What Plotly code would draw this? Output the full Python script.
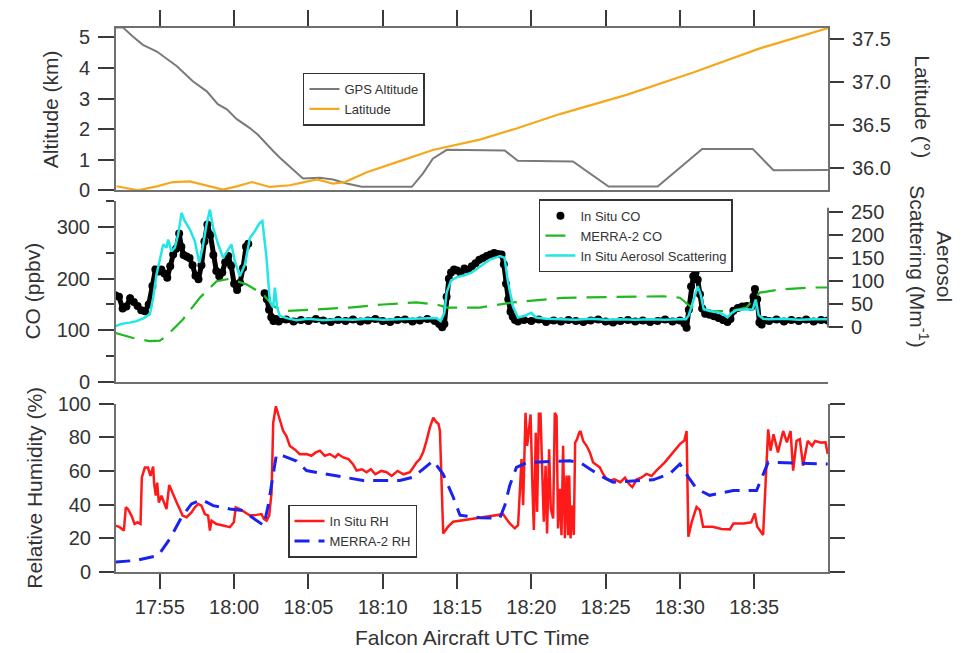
import pandas as pd
import plotly.graph_objects as go

# ---------------- data (minutes after 17:52:00 UTC) ----------------
BASE = "2019-08-07 17:52:00"

alt_t = [0, 0.51, 1.18, 1.86, 2.8, 4.15, 5.22, 6.16, 6.9, 7.51, 8.18, 9.06, 9.6, 10.2, 10.61, 11.08,
         11.75, 12.63, 13.77, 14.65, 15.58, 16.59, 19.96, 20.7, 21.37, 22.31, 26.21, 27.09, 30.8,
         33.2, 36.5, 39.5, 42.9, 44.3, 47.96]
alt_km = [5.33, 5.33, 5.03, 4.76, 4.54, 4.06, 3.57, 3.24, 2.82, 2.65, 2.33, 2.04, 1.82, 1.5, 1.3, 1.07,
          0.79, 0.39, 0.42, 0.36, 0.23, 0.12, 0.12, 0.55, 1.04, 1.33, 1.31, 0.97, 0.95,
          0.13, 0.13, 1.36, 1.36, 0.66, 0.67]

lat_t = [0.09, 1.52, 2.8, 3.88, 5.02, 6.16, 7.24, 8.18, 9.19, 10.4, 11.75, 12.56, 13.57, 14.65, 15.45,
         16.93, 17.81, 19.15, 21.37, 24.53, 27.0, 29.92, 34.41, 38.89, 43.38, 47.95]
lat_deg = [35.788, 35.742, 35.787, 35.837, 35.844, 35.80, 35.75, 35.787, 35.837, 35.78, 35.80, 35.83,
           35.867, 35.82, 35.837, 35.951, 36.0, 36.08, 36.21, 36.33, 36.46, 36.627, 36.85, 37.11,
           37.39, 37.625]

co_t = [0.0, 0.25, 0.5, 0.75, 1.0, 1.25, 1.5, 1.75, 2.0, 2.25, 2.5, 2.7, 2.9, 3.1, 3.3, 3.5, 3.7, 3.9,
        4.1, 4.3, 4.45, 4.6, 4.8, 5.0, 5.2, 5.4, 5.6, 5.8, 6.0, 6.2, 6.4, 6.6, 6.8, 7.0, 7.2, 7.4, 7.6,
        7.8, 8.0, 8.2, 8.4, 8.6, 8.8, 8.95, 9.5, 10.05, 10.2, 10.35, 10.5, 10.65, 10.8, 11.0, 11.5,
        12.0, 12.5, 13.0, 13.5, 14.0, 14.5, 15.0, 15.5, 16.0, 16.5, 17.0, 17.5, 18.0, 18.5, 19.0, 19.5,
        20.0, 20.5, 21.0, 21.5, 21.8, 22.0, 22.15, 22.3, 22.45, 22.6, 22.8, 23.0, 23.25, 23.5, 23.75,
        24.0, 24.25, 24.5, 24.75, 25.0, 25.25, 25.5, 25.75, 26.0, 26.15, 26.3, 26.45, 26.6, 26.75, 26.9,
        27.1, 27.5, 28.0, 28.5, 29.0, 29.5, 30.0, 30.5, 31.0, 31.5, 32.0, 32.5, 33.0, 33.5, 34.0, 34.5,
        35.0, 35.5, 36.0, 36.5, 37.0, 37.5, 38.0, 38.3, 38.45, 38.6, 38.75, 38.9, 39.05, 39.2, 39.35,
        39.5, 39.7, 40.0, 40.3, 40.6, 40.9, 41.2, 41.4, 41.6, 41.9, 42.2, 42.5, 42.8, 42.95, 43.05,
        43.2, 43.35, 43.5, 43.7, 44.0, 44.5, 45.0, 45.5, 46.0, 46.5, 47.0, 47.5, 47.95]
co_ppbv = [168, 165, 142, 146, 162, 155, 147, 139, 137, 150, 186, 218, 214, 218, 210, 202, 224, 247,
           258, 288, 262, 246, 243, 240, 226, 206, 199, 226, 272, 305, 285, 246, 215, 205, 212, 232, 244,
           225, 190, 178, 192, 221, 262, 268, None, 172, 160, 140, 125, 118, 122, 117, 121,
           117, 120, 118, 122, 119, 116, 120, 118, 121, 117, 119, 122, 118, 116, 120, 121,
           117, 119, 122, 118, 112, 106, 112, 165, 200, 212, 218, 216, 211, 220, 217,
           224, 230, 237, 240, 244, 247, 250, 248, 247, 228, 190, 160, 136, 126, 120,
           117, 120, 118, 121, 116, 119, 117, 120, 118, 116, 119, 121, 117, 115, 118, 120,
           117, 119, 116, 118, 121, 117, 119, 113, 105, 140, 185, 205, 212, 198, 170,
           142, 132, 130, 127, 124, 120, 116, 122, 138, 143, 146, 147, 145, 165, 180,
           160, 115, 111, 120, 118, 121, 117, 120, 118, 121, 117, 120, 119]

merra_co_t = [0.0, 1.2, 2.3, 3.0, 3.45, 4.55, 5.69, 6.82, 7.71, 8.83, 9.95, 10.63, 11.3, 13.55, 15.79,
              18.0, 20.28, 21.62, 22.3, 24.53, 26.8, 30.14, 33.5, 36.87, 38.0, 38.67, 40.24, 41.36,
              42.48, 43.38, 44.72, 46.99, 47.95]
merra_co_ppbv = [95, 85, 79, 80, 89, 121, 163, 195, 200, 189, 170, 147, 137, 141, 144,
                 150, 154, 150, 144, 144, 154, 163, 165, 166, 163, 147, 137, 137,
                 144, 173, 179, 183, 183]

aer_t = [0.0, 0.5, 0.98, 1.43, 1.88, 2.33, 2.55, 2.78, 3.0, 3.23, 3.45, 3.56, 3.78, 4.01, 4.23, 4.46,
         4.68, 5.02, 5.36, 5.65, 5.88, 6.14, 6.37, 6.59, 6.93, 7.26, 7.6, 7.82, 8.04, 8.38, 8.72, 9.06,
         9.39, 9.73, 9.9, 10.18, 10.4, 10.63, 10.74, 10.9, 11.08, 11.6, 12.2, 13.0, 14.0, 15.0, 16.0,
         17.0, 18.0, 19.0, 20.0, 21.0, 21.6, 21.9, 22.15, 22.3, 22.6, 23.0, 23.5, 24.0, 24.53, 25.2,
         25.9, 26.2, 26.4, 26.75, 27.1, 27.5, 28.0, 28.3, 29.0, 30.0, 31.0, 32.0, 33.0, 34.0, 35.0,
         36.0, 37.0, 38.0, 38.4, 38.6, 38.9, 39.2, 39.4, 39.6, 40.0, 40.6, 41.0, 41.2, 41.5, 41.8,
         42.5, 42.9, 43.1, 43.3, 43.6, 44.0, 45.0, 46.0, 47.0, 47.95]
aer_mm = [1, 6.5, 8.7, 12, 18, 27, 63, 114, 146, 179, 172, 190, 164, 172, 200, 248,
          230, 212, 186, 139, 172, 222, 255, 215, 179, 150, 168, 179, 143, 110, 135, 193,
          208, 226, 230, 150, 56, 41, 85, 41, 23, 18, 14, 17, 14, 16, 15,
          17, 15, 16, 17, 18, 19, 12, 30, 74, 101, 108, 112, 118, 130, 146,
          154, 150, 103, 45, 20, 23, 30, 20, 17, 16, 15, 17, 15, 16, 15,
          16, 15, 16, 16, 25, 59, 88, 70, 38, 34, 31, 25, 20, 30, 36,
          38, 37, 59, 25, 17, 16, 17, 15, 16, 16]

rh_t = [0.0, 0.3, 0.58, 0.71, 0.85, 1.09, 1.3, 1.5, 1.7, 1.79, 1.99, 2.2, 2.37, 2.55, 2.62, 2.73,
        2.82, 2.93, 3.11, 3.33, 3.45, 3.63, 3.79, 4.01, 4.23, 4.39, 4.53, 4.8, 5.13, 5.36, 5.58, 5.8,
        6.03, 6.25, 6.37, 6.48, 6.81, 7.26, 7.71, 7.98, 8.11, 8.38, 8.72, 9.06, 9.51, 9.84, 10.0,
        10.18, 10.36, 10.52, 10.63, 10.81, 10.97, 11.12, 11.3, 11.52, 11.75, 12.08, 12.42, 12.87,
        13.2, 13.5, 13.77, 14.1, 14.44, 14.8, 15.0, 15.34, 15.7, 16.0, 16.24, 16.6, 16.91, 17.2,
        17.5, 17.9, 18.26, 18.6, 19.0, 19.4, 19.83, 20.05, 20.28, 20.5, 20.72, 20.95, 21.17, 21.4,
        21.6, 21.75, 21.85, 22.07, 22.4, 22.74, 23.5, 24.53, 25.21, 26.1, 26.55, 26.89, 27.11,
        27.18, 27.34, 27.45, 27.52, 27.61, 27.72, 27.85, 27.95, 28.08, 28.17, 28.3, 28.39, 28.51,
        28.62, 28.75, 28.84, 28.96, 29.06, 29.2, 29.31, 29.47, 29.58, 29.7, 29.8, 29.92, 30.03,
        30.14, 30.26, 30.37, 30.48, 30.55, 30.64, 30.77, 30.86, 30.95, 31.08, 31.22, 31.31, 31.49,
        31.72, 31.94, 32.16, 32.61, 32.83, 33.06, 33.28, 33.6, 34.0, 34.3, 34.6, 34.8, 35.1, 35.4,
        35.75, 36.1, 36.4, 36.98, 37.54, 38.0, 38.3, 38.45, 38.57, 38.8, 39.12, 39.35, 39.56, 40.2,
        40.8, 41.36, 41.6, 42.3, 42.8, 43.04, 43.2, 43.6, 43.94, 44.1, 44.3, 44.6, 44.95, 45.2,
        45.45, 45.62, 45.85, 46.07, 46.29, 46.6, 46.9, 47.1, 47.5, 47.8, 47.95]
rh_pct = [27.6, 26.6, 24.6, 38.4, 37.4, 33.5, 28.5, 29.5, 28.5, 56.1, 62, 62, 57, 62.6, 52.2, 45.3,
          53, 41.3, 45.3, 39.4, 37.4, 51.6, 48.2, 43.3, 39.4, 36.4, 33.5, 32.5, 35.4, 38.4, 40.4, 39.4,
          34.4, 33.5, 24.6, 30.5, 28.5, 27.6, 26.6, 29.5, 38.4, 37.4, 35.4, 33.5, 33.9, 34.4, 31.5,
          30.5, 33.5, 47.2, 88.6, 98.4, 93.5, 88.6, 83.7, 80.7, 74.8, 72.8, 69.9, 70,
          69, 71, 72, 69, 70, 68, 70, 68, 67, 64, 60.2, 61, 59.2, 61,
          58, 60, 59.2, 57, 60, 58, 59.2, 62, 65.1, 67, 71, 78, 85.7, 91.6,
          89, 88, 83.7, 22.9, 26.9, 29.8, 30.8, 31.8, 33, 34.3, 28.8, 25.9, 27.8,
          39.6, 67, 39.6, 68, 94.5, 74.9, 85.7, 93.5, 49.4, 24.9, 82.7, 35.7, 94,
          94, 55.3, 29.8, 63.1, 22.9, 72.9, 37.6, 31.8, 94.5, 92.5, 25.9, 49.4, 21.9,
          74.9, 20, 57.2, 21.9, 57.2, 20, 39.6, 21.9, 76.8, 78.8, 82.7, 83.7, 77.8,
          74.9, 71, 65, 62.1, 58.2, 55.3, 54.3, 55, 53.3, 56, 52, 50.4, 55, 56,
          58.2, 57, 60, 65.1, 71, 75.9, 78, 83.7, 21, 29.8, 38.6, 36.7, 26.9, 26.9,
          25.5, 25.3, 28.8, 28.8, 29.5, 34.7, 27, 22, 84.7, 72, 81.8, 71, 83.7, 77,
          83.7, 60.2, 77.8, 78.8, 63.1, 77.8, 74.9, 77.8, 76.8, 77, 70]

merra_rh_t = [0.0, 1.43, 2.89, 3.67, 4.46, 5.13, 5.8, 6.59, 7.71, 8.61, 9.51, 10.0, 10.29, 10.63,
              10.85, 11.3, 12.2, 12.87, 14.66, 16.68, 19.15, 20.05, 21.4, 22.07, 22.74, 23.2, 24.53,
              25.88, 26.22, 26.55, 27.0, 27.7, 30.59, 31.27, 31.94, 32.83, 33.5, 34.63, 36.2, 37.3,
              38.0, 38.57, 39.12, 40.0, 41.6, 43.16, 43.6, 43.94, 47.95]
merra_rh_pct = [5.9, 6.9, 9.8, 19.7, 32.5, 40.4, 43, 39.4, 37.4, 36.4, 30.5, 27.6, 39.4, 59,
                69.9, 68.9, 65.9, 60.2, 57.3, 54.3, 54.3, 56.3, 66, 58, 44.5, 33.7, 32.2,
                32, 39.6, 51.4, 62.1, 65, 66, 65, 61.2, 56.3, 53.3, 53.9, 54.7, 58.2,
                64.1, 56.3, 49.4, 45.5, 48.4, 48.4, 57.3, 65.1, 64.1]

for a, b in [(alt_t, alt_km), (lat_t, lat_deg), (co_t, co_ppbv), (merra_co_t, merra_co_ppbv),
             (aer_t, aer_mm), (rh_t, rh_pct), (merra_rh_t, merra_rh_pct)]:
    assert len(a) == len(b), (len(a), len(b))

base = pd.Timestamp(BASE)
def to_time(mins):
    return [base + pd.Timedelta(minutes=m) for m in mins]

x_range = ["2019-08-07 17:52:03", "2019-08-07 18:39:58"]

# ---------------- styling ----------------
FONT = "Liberation Sans, Arial, sans-serif"
TXT = "#333333"
LINE = "#6f6f6f"
TICK = "#3a3a3a"

fig = go.Figure()

# top panel
fig.add_trace(go.Scatter(x=to_time(alt_t), y=alt_km, mode="lines", name="GPS Altitude",
                         line=dict(color="#7a7a7a", width=2), xaxis="x3", yaxis="y3", legend="legend"))
fig.add_trace(go.Scatter(x=to_time(lat_t), y=lat_deg, mode="lines", name="Latitude",
                         line=dict(color="#f5a81c", width=2.2), xaxis="x3", yaxis="y5", legend="legend"))

# middle panel
fig.add_trace(go.Scatter(x=to_time(co_t), y=co_ppbv, mode="lines", showlegend=False, hoverinfo="skip",
                         line=dict(color="black", width=5), connectgaps=False,
                         xaxis="x2", yaxis="y2", legend="legend2"))
fig.add_trace(go.Scatter(x=to_time(co_t), y=co_ppbv, mode="markers", name="In Situ CO",
                         marker=dict(color="black", size=8), xaxis="x2", yaxis="y2", legend="legend2"))
fig.add_trace(go.Scatter(x=to_time(merra_co_t), y=merra_co_ppbv, mode="lines", name="MERRA-2 CO",
                         line=dict(color="#1fb81f", width=2.2, dash="20px,10px"),
                         xaxis="x2", yaxis="y2", legend="legend2"))
fig.add_trace(go.Scatter(x=to_time(aer_t), y=aer_mm, mode="lines", name="In Situ Aerosol Scattering",
                         line=dict(color="#22e6e6", width=2.5), xaxis="x2", yaxis="y4", legend="legend2"))

# bottom panel
fig.add_trace(go.Scatter(x=to_time(rh_t), y=rh_pct, mode="lines", name="In Situ RH",
                         line=dict(color="#ff1a1a", width=2.5), xaxis="x", yaxis="y", legend="legend3"))
fig.add_trace(go.Scatter(x=to_time(merra_rh_t), y=merra_rh_pct, mode="lines", name="MERRA-2 RH",
                         line=dict(color="#1a22ee", width=3, dash="15px,9px"),
                         xaxis="x", yaxis="y", legend="legend3"))

tickfont = dict(family=FONT, size=20, color=TXT)
common_y = dict(showline=True, linecolor=LINE, linewidth=2, ticks="outside", tickcolor=TICK,
                tickwidth=1.5, tickfont=tickfont, showgrid=False, zeroline=False, ticklabelstandoff=4)

D_TOP = [0.7013, 1.0]
D_MID = [0.3497, 0.6812]
D_BOT = [0.0, 0.3097]

legend_common = dict(xanchor="left", yanchor="top", bgcolor="white", bordercolor="#333333",
                     borderwidth=1.5, font=dict(family=FONT, size=13, color=TXT),
                     tracegroupgap=0, itemwidth=30)

fig.update_layout(
    width=966, height=653,
    margin=dict(l=116, r=138, t=23, b=81),
    paper_bgcolor="white", plot_bgcolor="white",
    font=dict(family=FONT, color=TXT),
    xaxis=dict(type="date", range=x_range, domain=[0, 1], anchor="y",
               showline=True, linecolor=LINE, linewidth=2, ticks="outside", ticklen=15,
               tickcolor=TICK, tickwidth=1.5, tickformat="%H:%M", dtick=300000,
               tick0="2019-08-07 17:55:00", tickfont=tickfont, showgrid=False, zeroline=False,
               ticklabelstandoff=1),
    xaxis2=dict(type="date", range=x_range, domain=[0, 1], anchor="y2", matches="x",
                showline=True, linecolor=LINE, linewidth=2, ticks="", showticklabels=False,
                showgrid=False, zeroline=False),
    xaxis3=dict(type="date", range=x_range, domain=[0, 1], anchor="y3", matches="x", side="top",
                showline=True, mirror=True, linecolor=LINE, linewidth=2, ticks="outside", ticklen=16,
                tickcolor=TICK, tickwidth=1.5, dtick=300000, tick0="2019-08-07 17:55:00",
                showticklabels=False, showgrid=False, zeroline=False),
    yaxis=dict(domain=D_BOT, anchor="x", range=[0, 100], dtick=20, ticklen=15, mirror="ticks",
               **common_y),
    yaxis2=dict(domain=D_MID, anchor="x2", range=[0, 350], dtick=100, ticklen=16,
                minor=dict(dtick=50, ticklen=8, ticks="outside", tickcolor=TICK, tickwidth=1.5),
                **common_y),
    yaxis3=dict(domain=D_TOP, anchor="x3", range=[0, 5.31], dtick=1, ticklen=16, **common_y),
    yaxis4=dict(overlaying="y2", anchor="x2", side="right", range=[-120.2, 272.9],
                tickvals=[0, 50, 100, 150, 200, 250], ticks="outside", ticklen=14, tickcolor=TICK,
                tickwidth=1.5, tickfont=tickfont, showline=False, showgrid=False, zeroline=False,
                ticklabelstandoff=4),
    yaxis5=dict(overlaying="y3", anchor="x3", side="right", range=[35.739, 37.627],
                tickvals=[36.0, 36.5, 37.0, 37.5], tickformat=".1f", ticklen=14, **common_y),
    legend=dict(x=0.2626, y=0.918, **legend_common),
    legend2=dict(x=0.594, y=0.685, **legend_common),
    legend3=dict(x=0.2416, y=0.124, **legend_common),
    shapes=[dict(type="line", xref="paper", yref="y4", x0=1, x1=1, y0=-2, y1=259,
                 line=dict(color=LINE, width=2))],
)

title_font = dict(family=FONT, size=21, color=TXT)
annos = [
    ("Altitude (km)", -0.0927, 0.8506, -90),
    ("CO (ppbv)", -0.1166, 0.5173, -90),
    ("Relative Humidity (%)", -0.1138, 0.1548, -90),
    ("Latitude (°)", 1.1334, 0.8543, 90),
    ("Aerosol<br>Scattering (Mm<sup>-1</sup>)", 1.1454, 0.5628, 90),
    ("Falcon Aircraft UTC Time", 0.5, -0.1202, 0),
]
for text, ax, ay, ang in annos:
    fig.add_annotation(text=text, xref="paper", yref="paper", x=ax, y=ay, showarrow=False,
                       textangle=ang, font=title_font, xanchor="center", yanchor="middle")

fig.write_html("out.html", config={"displayModeBar": False},
               post_script="document.body.style.margin='0px';")
